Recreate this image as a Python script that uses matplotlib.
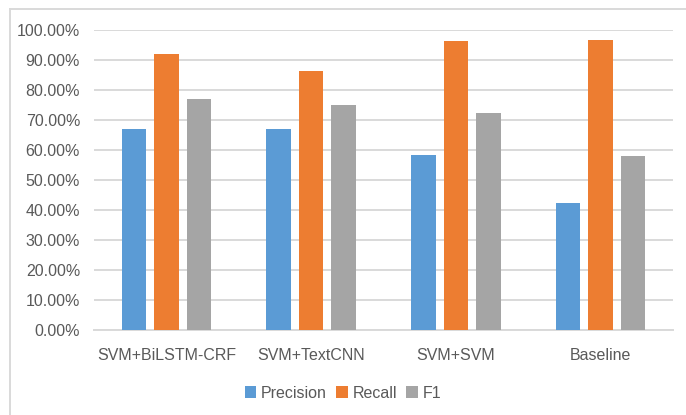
import numpy as np
import matplotlib
matplotlib.use("Agg")
import matplotlib.pyplot as plt
from matplotlib.lines import Line2D
from matplotlib.ticker import FuncFormatter

# Scores per model (fractions)
models = ["SVM+BiLSTM-CRF", "SVM+TextCNN", "SVM+SVM", "Baseline"]
precision = [0.668, 0.668, 0.584, 0.423]
recall = [0.918, 0.862, 0.962, 0.966]
f1 = [0.769, 0.750, 0.722, 0.581]
series_names = ["Precision", "Recall", "F1"]
series_colors = ["#5B9BD5", "#ED7D31", "#A5A5A5"]

plt.rcParams["font.family"] = ["Liberation Sans", "DejaVu Sans"]

fig = plt.figure(figsize=(6.86, 4.15), dpi=100)

# light frame edges (top and left) around the chart area
fx, fy = 9.5 / 686, 1 - 9 / 415
fig.add_artist(Line2D([fx, 1.0], [fy, fy], transform=fig.transFigure,
                      color="#D9D9D9", linewidth=1.4))
fig.add_artist(Line2D([fx, fx], [0.0, fy], transform=fig.transFigure,
                      color="#D9D9D9", linewidth=1.4))

ax = fig.add_axes([94 / 686, 1 - 330 / 415, (673 - 94) / 686, (330 - 29.7) / 415])

x = np.arange(len(models))
width = 0.17
pitch = 0.225
for i, (vals, name, color) in enumerate(zip([precision, recall, f1], series_names, series_colors)):
    ax.bar(x + (i - 1) * pitch, vals, width, color=color, label=name, zorder=3)

ax.set_xlim(-0.5, len(models) - 0.5)
ax.set_ylim(0, 1.0)
ax.set_yticks(np.arange(0, 1.01, 0.1))
ax.yaxis.set_major_formatter(FuncFormatter(lambda v, _: f"{v * 100:.2f}%"))
ax.set_xticks(x)
ax.set_xticklabels(models)

ax.grid(axis="y", color="#D9D9D9", linewidth=1.4, zorder=0)
for side in ["top", "right", "left"]:
    ax.spines[side].set_visible(False)
ax.spines["bottom"].set_color("#D9D9D9")
ax.spines["bottom"].set_linewidth(1.4)
ax.tick_params(axis="both", length=0, colors="#595959", labelsize=11.5)
ax.tick_params(axis="x", pad=13)
ax.tick_params(axis="y", pad=10)

leg = fig.legend(loc="center", bbox_to_anchor=(0.5, 1 - 393 / 415), ncol=3,
                 frameon=False, fontsize=11.5, handlelength=0.7, handleheight=0.7,
                 handletextpad=0.3, columnspacing=0.6)
for t in leg.get_texts():
    t.set_color("#595959")

fig.savefig("out.png", dpi=100)
